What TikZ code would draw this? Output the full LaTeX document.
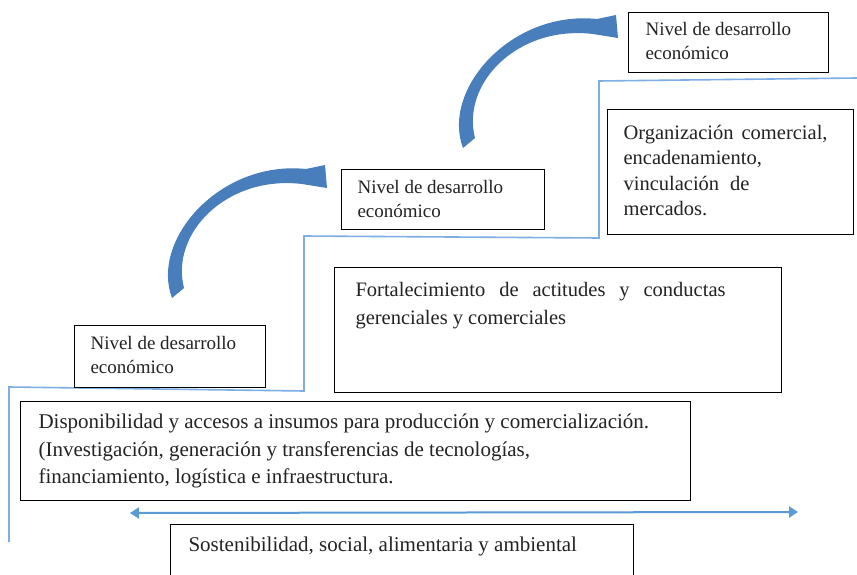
\documentclass[tikz,border=0pt]{standalone}
\usepackage{fontspec}
\setmainfont{Liberation Serif}
\usetikzlibrary{arrows.meta}
\definecolor{arrowblue}{RGB}{72,126,187}
\definecolor{stairblue}{RGB}{125,175,228}
\definecolor{linkblue}{RGB}{91,155,213}
\definecolor{txt}{RGB}{35,35,35}
% #1 width, #2 height, #3 left pad, #4 top pad, #5 font size, #6 line skip, #7 text
\newcommand\tb[7]{\parbox[c][#2pt][t]{#1pt}{\vspace*{#4pt}\raggedright\leftskip=#3pt\relax\fontsize{#5}{#6}\selectfont\color{txt}\strut #7}}
\begin{document}
\begin{tikzpicture}[x=1pt,y=-1pt,
  box/.style={draw=black,line width=1.1pt,inner sep=0pt,anchor=north west},
  stair/.style={draw=stairblue,line width=1.6pt},
  link/.style={draw=linkblue,line width=2pt,{Triangle[length=9pt,width=11pt]}-{Triangle[length=9pt,width=11pt]}},
  blockarrow/.style={fill=arrowblue}]
\useasboundingbox (0,0) rectangle (857,575);
\fill[white] (0,0) rectangle (857,575);
% staircase
\draw[stair] (9,542) -- (9,387) -- (304,391) -- (304,236) -- (599,238) -- (599,81) -- (857,78);
% boxes
\node[box] (n3) at (628,12) {\tb{200}{60}{17}{6}{19}{24}{Nivel de desarrollo\\económico}};
\node[box] (n2) at (341,169) {\tb{203}{60}{16}{7}{19}{24}{Nivel de desarrollo\\económico}};
\node[box] (n1) at (74,325) {\tb{191}{62}{16}{7}{19}{24}{Nivel de desarrollo\\económico}};
\node[box] (org) at (607,109) {\tb{246}{125}{16}{12}{20.5}{25.5}{\makebox[204pt][s]{Organización comercial,}\\encadenamiento,\\\makebox[126pt][s]{vinculación de}\\mercados.}};
\node[box] (fort) at (334,267) {\tb{447}{125}{21}{9}{20.5}{28}{\makebox[370pt][s]{Fortalecimiento de actitudes y conductas}\\gerenciales y comerciales}};
\node[box] (disp) at (20,401) {\tb{670}{99}{18}{8}{21}{27.5}{Disponibilidad y accesos a insumos para producción y comercialización.\\(Investigación, generación y transferencias de tecnologías,\\financiamiento, logística e infraestructura.}};
\node[box] (sost) at (170,524) {\tb{463}{60}{18}{8}{21}{27}{Sostenibilidad, social, alimentaria y ambiental}};
% bottom double arrow
\coordinate (sL) at (130,513);
\coordinate (sR) at (798,512);
\draw[link] (sL) -- (sR);
% curved block arrows
\fill[blockarrow] (172,298) .. controls (150,240) and (220,160) .. (306,169) -- (325,165) -- (327,188) -- (302,184) .. controls (226,175) and (170,234) .. (184,288) -- cycle;
\begin{scope}[shift={(291,-150)}]
\fill[blockarrow] (172,298) .. controls (150,240) and (220,160) .. (306,169) -- (325,165) -- (327,188) -- (302,184) .. controls (226,175) and (170,234) .. (184,288) -- cycle;
\end{scope}
\end{tikzpicture}
\end{document}
